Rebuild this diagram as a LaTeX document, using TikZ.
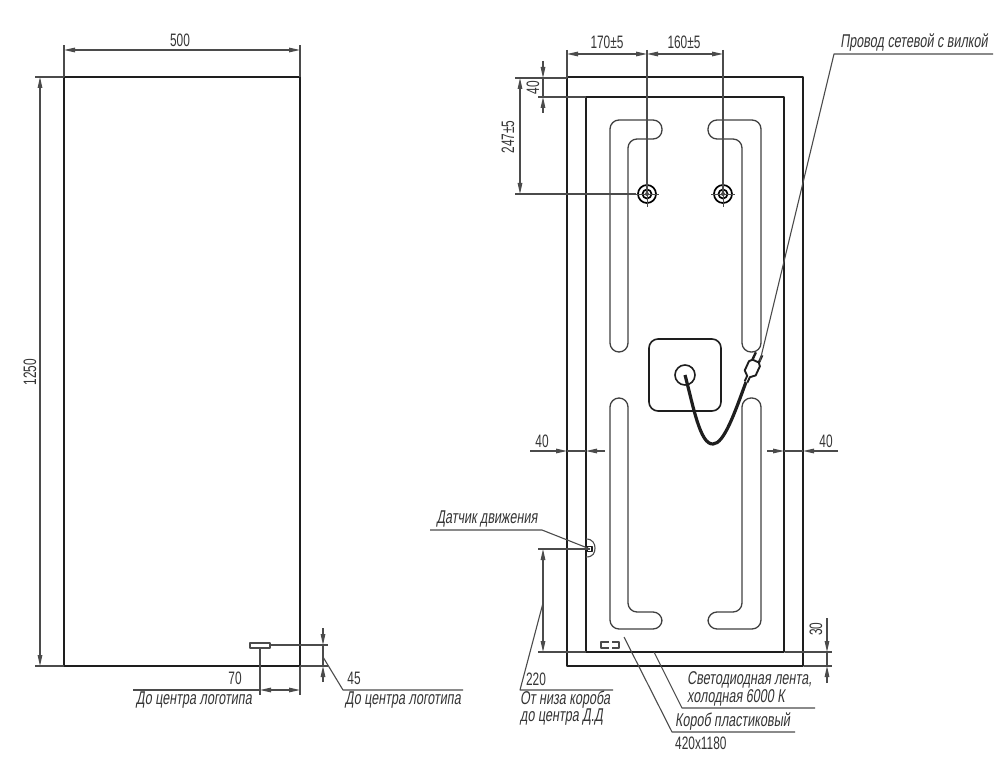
\documentclass[tikz,border=0pt]{standalone}
\usepackage{fontspec}
\usetikzlibrary{arrows.meta}
\newfontfamily\cadfont{Liberation Sans}[FakeStretch=0.68,FakeSlant=0.14]
\newfontfamily\cadnum{Liberation Sans}[FakeStretch=0.66]
\definecolor{ink}{HTML}{1E1E1E}
\tikzset{
  contour/.style={draw=ink,line width=1.9pt},
  strip/.style={draw=ink!85,line width=1.3pt,rounded corners=9pt},
  dim/.style={draw=ink!80,line width=1.1pt},
  lbl/.style={font=\cadfont\fontsize{18.5}{18.5}\selectfont,inner sep=0pt,text=ink!90},
  num/.style={font=\cadnum\fontsize{18}{18}\selectfont,inner sep=0pt,text=ink!90},
}
\begin{document}
\begin{tikzpicture}[x=1pt,y=-1pt,>={Stealth[length=11pt,width=4.6pt,inset=0pt]},line join=round]
\useasboundingbox (0,0) rectangle (998,759);
\path
(64,77) coordinate (A) (300,666) coordinate (C)
(567,77) coordinate (E) (803,666) coordinate (G)
(586,97) coordinate (I) (784,652) coordinate (K)
(647,194) coordinate (H1) (723,194) coordinate (H2)
(685,375) coordinate (O)
(590,549) coordinate (D)
(260,648) coordinate (L)
;
% front view
\draw[contour] (A) rectangle (C);
\draw[dim,line width=1.5pt] (250,643) rectangle (270,648);
\draw[dim] (64,77)--(64,45) (300,77)--(300,45) (64,77)--(35,77) (64,666)--(35,666);
\draw[dim,<->] (64,50)--(300,50);
\draw[dim,<->] (40,77)--(40,666);
\node[num] (n500) at (180,40) {500};
\node[num,rotate=90] (n1250) at (30,372) {1250};
\draw[dim] (L)--(260,695) (300,666)--(300,695) (270,645)--(328,645) (300,666)--(328,666);
\draw[dim,<->] (260,690)--(300,690);
\draw[dim] (260,690)--(133,690);
\draw[dim] (323,645)--(323,666);
\draw[dim,->] (323,628)--(323,645);
\draw[dim,->] (323,682)--(323,666);
\draw[dim] (323,657)--(343,690)--(463,690);
\node[num] (n70) at (235,678) {70};
\node[num] (n45) at (354,678) {45};
\node[lbl] (logoa) at (194,700) {До центра логотипа};
\node[lbl] (logob) at (403,700) {До центра логотипа};
% back view
\draw[contour] (E) rectangle (G);
\draw[contour] (I) rectangle (K);
\draw[strip] (610,352)--(610,120)--(662,120)--(662,139)--(628,139)--(628,352)--cycle;
\draw[strip] (761,352)--(761,120)--(708,120)--(708,139)--(742,139)--(742,352)--cycle;
\draw[strip] (610,398)--(610,629)--(662,629)--(662,612)--(628,612)--(628,398)--cycle;
\draw[strip] (761,398)--(761,629)--(708,629)--(708,612)--(742,612)--(742,398)--cycle;
\foreach \p in {H1,H2}{
\draw[line width=1.7pt] (\p) circle (9pt) (\p) circle (4.5pt);
\fill[ink!80] (\p) circle (2pt);
\draw[dim,line width=.7pt] (\p)+(-12,0)--+(12,0) (\p)+(0,0)--+(0,13);
}
\draw[dim,line width=1.5pt] (567,50)--(567,78) (647,50)--(647,194) (723,50)--(723,194);
\draw[dim,<->] (567,54)--(647,54);
\draw[dim,<->] (647,54)--(723,54);
\node[num] (n170) at (607,42) {170±5};
\node[num] (n160) at (684,42) {160±5};
\draw[dim] (515,78)--(567,78) (538,97)--(586,97) (515,194)--(636,194);
\draw[dim] (543,78)--(543,97);
\draw[dim,->] (543,61)--(543,78);
\draw[dim,->] (543,113)--(543,97);
\draw[dim,<->] (520,78)--(520,194);
\node[num,rotate=90] (n40a) at (533,88) {40};
\node[num,rotate=90] (n247) at (508,137) {247±5};
% led panel and cord
\draw[line width=1.6pt,draw=ink,rounded corners=9pt] (649,339) rectangle (721,411);
\draw[line width=1.6pt,draw=ink] (O) circle (10pt);
\draw[line width=3.2pt,draw=ink] (O) .. controls (693,405) and (700,445) .. (713,444) .. controls (724,444) and (735,412) .. (746,382);
\begin{scope}[shift={(746,382)},x={(0.91pt,-0.42pt)},y={(0.42pt,0.91pt)}]
\draw[fill=white,line width=1.9pt,draw=ink] (-1.5,0)--(-1.5,6)--(-6,10)--(-6,20)--(-3.5,23)--(3.5,23)--(6,20)--(6,10)--(1.5,6)--(1.5,0);
\draw[line width=2.4pt,draw=ink] (-3.5,23)--(-3.5,31) (3.5,23)--(3.5,31);
\end{scope}
\draw[dim] (760,361)--(834,54)--(993,54);
\node[lbl] (wire) at (914,43) {Провод сетевой с вилкой};
% side dimensions
\draw[dim] (567,451)--(586,451) (784,451)--(803,451);
\draw[dim,->] (530,451)--(567,451);
\draw[dim,->] (605,451)--(586,451);
\draw[dim,->] (767,451)--(784,451);
\draw[dim,->] (838,451)--(803,451);
\node[num] (n40b) at (542,441) {40};
\node[num] (n40c) at (826,441) {40};
% sensor
\draw[dim,line width=1.1pt] (586,539) .. controls (593,539) and (595,544) .. (595,548) .. controls (595,553) and (593,557) .. (586,557);
\draw[line width=1.5pt,draw=ink] (587.5,546.5) rectangle (592,551.5);
\draw[dim] (430,530)--(542,530)--(D);
\node[lbl] (sensor) at (487,519) {Датчик движения};
\draw[dim] (538,549)--(D) (538,652)--(586,652);
\draw[dim,<->] (543,549)--(543,652);
\draw[dim] (543,603)--(520,690)--(613,690);
\node[num] (n220) at (536,679) {220};
\node[lbl,anchor=west] (bot1) at (520,700) {От низа короба};
\node[lbl,anchor=west] (bot2) at (520,717) {до центра Д.Д};
% marks at bottom
\draw[dim,line width=1.2pt] (609,642)--(601,642)--(601,648)--(609,648) (612,642)--(619,642)--(619,648)--(612,648);
\draw[dim] (827,652)--(827,666);
\draw[dim,->] (827,618)--(827,652);
\draw[dim,->] (827,683)--(827,666);
\draw[dim] (785,652)--(832,652) (804,666)--(832,666);
\node[num,rotate=90] (n30) at (816,629) {30};
\draw[dim] (654,652)--(682,708)--(815,708);
\node[lbl,anchor=west] (led1) at (687,680) {Светодиодная лента,};
\node[lbl,anchor=west] (led2) at (687,698) {холодная 6000 К};
\draw[dim] (624,637)--(672,732)--(795,732);
\node[lbl,anchor=west] (box1) at (675,722) {Короб пластиковый};
\node[num,anchor=west] (box2) at (675,743) {420х1180};
\end{tikzpicture}
\end{document}
